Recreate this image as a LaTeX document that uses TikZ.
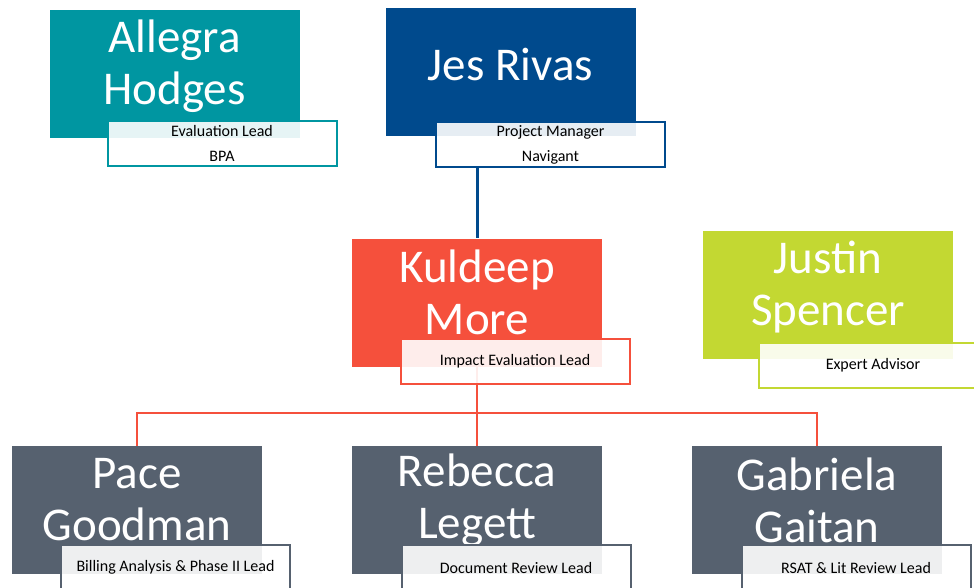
\documentclass[tikz,border=0pt]{standalone}
\usepackage{fontspec}
\setmainfont{Carlito}
\usetikzlibrary{backgrounds}

\definecolor{tealcol}{RGB}{0,150,161}
\definecolor{bluecol}{RGB}{0,74,141}
\definecolor{redcol}{RGB}{245,80,60}
\definecolor{limecol}{RGB}{195,216,50}
\definecolor{graycol}{RGB}{86,97,111}

\tikzset{
  person/.style={fill=#1, minimum width=250, minimum height=128, inner sep=0pt},
  nametext/.style={text=white, font=\fontsize{47}{52}\selectfont, align=center, inner sep=0pt},
  rolebox/.style={draw=#1, line width=2pt, fill=white, fill opacity=0.9, text opacity=1,
    minimum width=229, minimum height=45, inner sep=0pt, align=center,
    font=\fontsize{16}{25}\selectfont},
  orgline/.style={draw=#1, line width=2pt},
}

\begin{document}
\begin{tikzpicture}[x=1pt, y=-1pt]
    \clip (0,0) rectangle (974,588);

    % top row
    \node[person=tealcol] (allegra) at (174.5, 74) {};
    \node[nametext] (allegraname) at ([yshift=8pt]allegra.center) {Allegra\\Hodges};
    \node[rolebox=tealcol] (allegrarole) at (222, 143.5) {Evaluation Lead\\BPA};

    \node[person=bluecol] (jes) at (510.5, 72.5) {};
    \node[nametext] (jesname) at ([yshift=8pt]jes.center) {Jes Rivas};
    \node[rolebox=bluecol] (jesrole) at (550.5, 144.5) {Project Manager\\Navigant};

    % middle row
    \node[person=redcol] (kuldeep) at (477, 302.5) {};
    \node[nametext] (kuldeepname) at ([yshift=10pt]kuldeep.center) {Kuldeep\\More};
    \node[rolebox=redcol] (kuldeeprole) at (515, 361) {Impact Evaluation Lead};

    \node[person=limecol] (justin) at (828, 295) {};
    \node[nametext] (justinname) at ([yshift=8pt]justin.center) {Justin\\Spencer};
    \node[rolebox=limecol] (justinrole) at (873, 365) {Expert Advisor};

    % bottom row
    \node[person=graycol] (pace) at (137, 510) {};
    \node[nametext] (pacename) at ([yshift=10pt]pace.center) {Pace\\Goodman};
    \node[rolebox=graycol] (pacerole) at (175.5, 567.5) {Billing Analysis \& Phase II Lead};

    \node[person=graycol] (rebecca) at (477, 510) {};
    \node[nametext] (rebeccaname) at ([yshift=10pt]rebecca.center) {Rebecca\\Legett};
    \node[rolebox=graycol] (rebeccarole) at (516, 567.5) {Document Review Lead};

    \node[person=graycol] (gabriela) at (817, 510) {};
    \node[nametext] (gabrielaname) at ([yshift=10pt]gabriela.center) {Gabriela\\Gaitan};
    \node[rolebox=graycol] (gabrielarole) at (856, 567.5) {RSAT \& Lit Review Lead};

    % connectors
    \begin{scope}[on background layer]
        \draw[orgline=bluecol, line width=3pt] (kuldeep.north |- jesrole.south) -- (kuldeep.north);
        \coordinate (bus) at ([yshift=-46pt]kuldeep.south);
        \draw[orgline=redcol] (kuldeep.south) -- (bus);
        \draw[orgline=redcol] (bus) -| (pace.north);
        \draw[orgline=redcol] (bus) -| (rebecca.north);
        \draw[orgline=redcol] (bus) -| (gabriela.north);
    \end{scope}
\end{tikzpicture}
\end{document}
